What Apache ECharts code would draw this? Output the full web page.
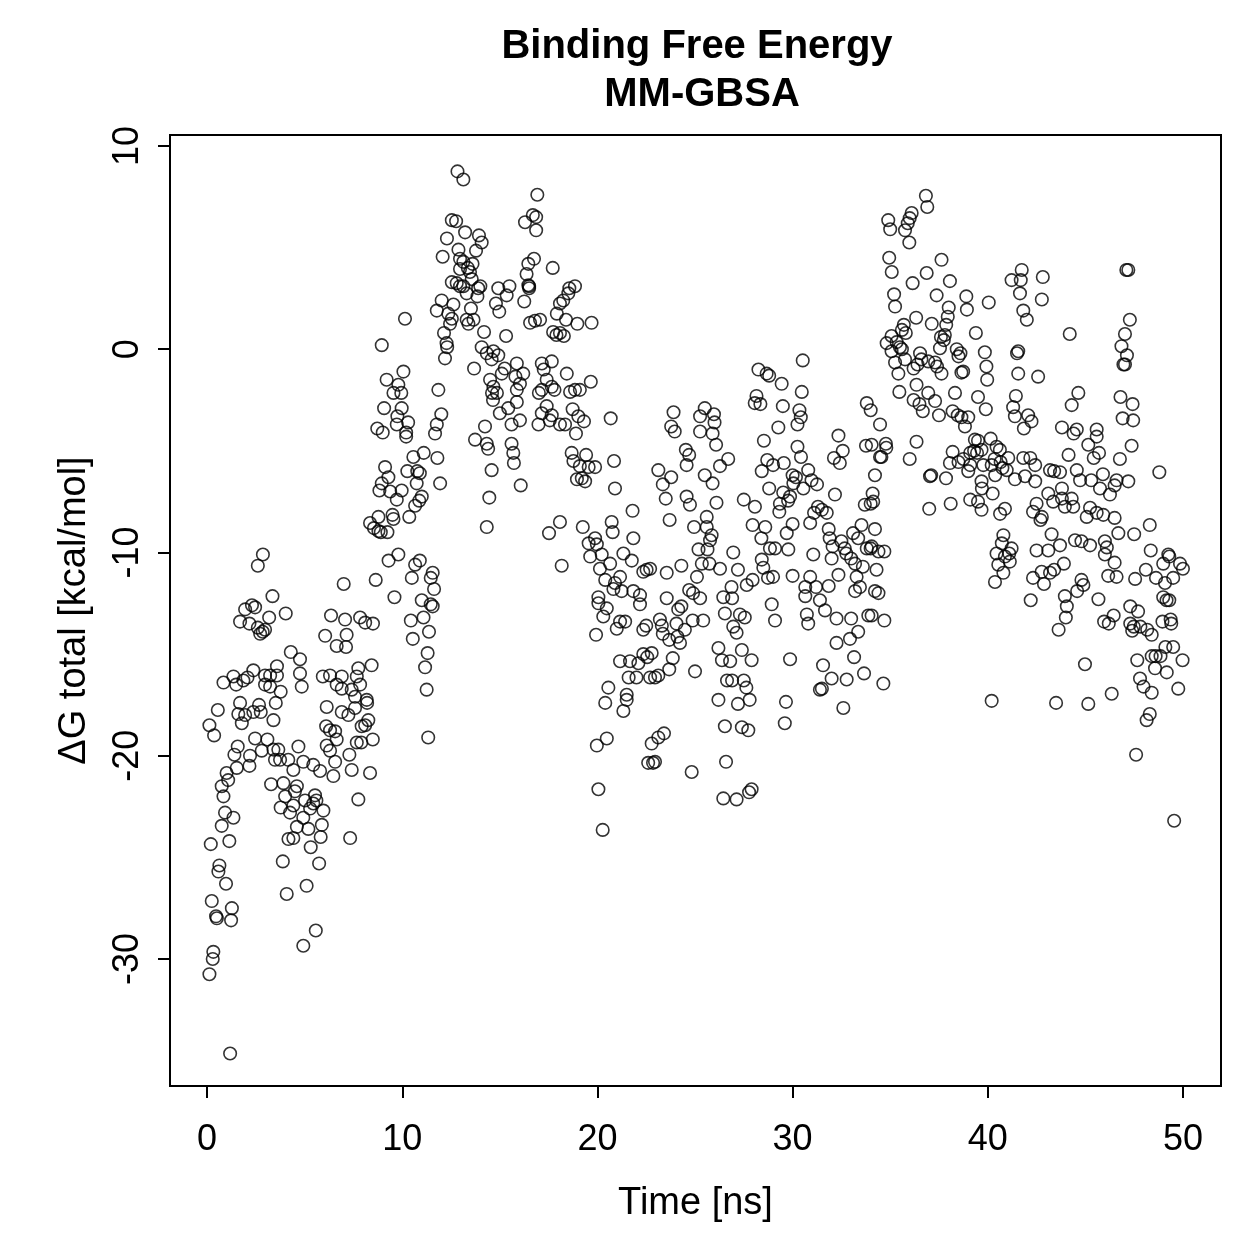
<!DOCTYPE html>
<html>
<head>
<meta charset="utf-8">
<title>Binding Free Energy MM-GBSA</title>
<script src="https://cdn.jsdelivr.net/npm/echarts@6/dist/echarts.min.js"></script>
<style>
  html, body { margin: 0; padding: 0; background: #fff; }
  #chart { width: 1259px; height: 1259px; }
</style>
</head>
<body>
<div id="chart"></div>
<script>
  // tick labels
  var xTicks = [0, 10, 20, 30, 40, 50]
  var yTicks = [-30, -20, -10, 0, 10]

  // [time ns, dG kcal/mol], grouped by time window
  var early = [
    [2.86,-10.1],[2.6,-10.65],[7.0,-11.55],[8.64,-11.35],[9.3,-10.4],[9.8,-10.1],[9.6,-12.2],
    [3.35,-12.15],[2.3,-12.6],[1.95,-12.8],[2.46,-12.7],[4.03,-13.0],[3.18,-13.2],[1.69,-13.4],[2.17,-13.5],[2.6,-13.7],[2.97,-13.8],[2.72,-14.0],[2.85,-13.9],
    [6.35,-13.1],[7.07,-13.3],[7.84,-13.2],[8.1,-13.45],[8.5,-13.5],[6.05,-14.1],[7.15,-14.05],[6.64,-14.6],[7.12,-14.65],
    [4.29,-14.9],[4.76,-15.25],[4.76,-15.95],[4.85,-16.6],
    [2.37,-15.8],[3.58,-15.6],[3.58,-16.05],[0.84,-16.4],[1.35,-16.1],[1.49,-16.5],[1.86,-16.3],[2.07,-16.15],[2.97,-16.05],[3.23,-16.05],[2.97,-16.5],[3.23,-16.6],[3.77,-16.85],[3.52,-17.4],[1.69,-17.4],[0.55,-17.75],[1.6,-17.95],[1.95,-18.0],[2.37,-17.85],[2.66,-17.5],[2.75,-17.85],[3.4,-18.25],[1.78,-18.4],[0.12,-18.5],[0.36,-19.0],[2.46,-19.15],[3.09,-19.2],[1.57,-19.55],[1.4,-19.95],[2.2,-20.0],[2.17,-20.5],[2.8,-19.75],[3.4,-19.7],[3.65,-19.7],[3.48,-20.2],[3.74,-20.2],[4.16,-20.2],[4.68,-19.55],[4.93,-20.3],[4.42,-20.7],[5.44,-20.45],[5.79,-20.75],[1.52,-20.6],[1.0,-20.85],
    [5.93,-16.1],[6.3,-16.05],[6.9,-16.1],[6.64,-16.5],[6.9,-16.7],[7.67,-16.1],[7.75,-15.7],[8.43,-15.55],[7.84,-16.5],[7.41,-16.75],[7.58,-17.1],[8.18,-17.25],[8.2,-17.4],[6.13,-17.6],[6.9,-17.85],[7.24,-18.0],[7.58,-17.65],[8.26,-18.25],[8.1,-18.5],[6.1,-18.55],[6.3,-18.75],[6.56,-18.8],[6.64,-19.2],[7.92,-18.55],[8.49,-19.2],[7.67,-19.35],[7.9,-19.35],[6.13,-19.5],[6.3,-19.75],[6.56,-20.3],[7.29,-19.95],[7.41,-20.7],[8.35,-20.85],[6.47,-21.0],
    [0.75,-21.5],[1.08,-21.2],[0.84,-22.0],[0.92,-22.8],[1.35,-23.05],[0.75,-23.45],[0.19,-24.35],[1.14,-24.2],[0.63,-25.4],[0.58,-25.7],[0.97,-26.3],[0.24,-27.15],[1.27,-27.5],[0.46,-27.9],[0.5,-28.0],[1.23,-28.1],[0.32,-29.65],[0.29,-30.0],[0.12,-30.75],[1.18,-34.65],
    [3.28,-21.4],[3.91,-21.35],[4.6,-21.5],[4.5,-21.75],[4.0,-22.0],[3.77,-22.55],[4.25,-22.8],[4.42,-22.45],[5.02,-22.2],[5.53,-21.95],[5.44,-22.35],[5.6,-22.2],[5.28,-22.6],[5.96,-22.7],[4.93,-23.05],[4.6,-23.5],[5.19,-23.6],[5.88,-23.4],[5.82,-24.0],[4.17,-24.1],[4.42,-24.05],[5.31,-24.5],[3.88,-25.2],[5.74,-25.3],[5.1,-26.4],[4.08,-26.8],[5.57,-28.6],[4.93,-29.35],[7.75,-22.15],[7.33,-24.05]
  ]

  var rise = [
    [12.83,8.75],[13.13,8.35],[16.92,7.6],[12.54,6.35],[12.76,6.3],[16.69,6.6],[16.29,6.25],[16.86,6.5],[16.86,5.85],[13.22,5.75],[13.93,5.6],[14.07,5.25],[12.29,5.45],[12.88,4.9],[13.78,4.85],[12.07,4.55],[12.96,4.45],[13.13,4.3],[13.6,4.2],[13.36,4.0],[12.96,3.95],[13.47,3.8],[16.75,4.45],[16.46,4.2],[17.71,4.0],[16.37,3.7],[16.46,3.15],[16.5,3.1],[16.5,3.0],
    [12.54,3.3],[12.79,3.25],[13.13,3.1],[12.96,3.1],[13.56,3.45],[13.89,3.0],[14.0,3.1],[13.3,2.75],[13.85,2.6],[14.92,3.0],[15.49,3.1],[15.35,2.65],[12.02,2.4],[12.62,2.2],[11.77,1.9],[12.36,1.75],[12.54,1.5],[12.45,1.25],[13.3,1.45],[13.52,2.0],[13.65,1.45],[13.39,1.25],[10.14,1.5],[12.14,0.8],[12.27,0.3],[12.3,0.1],[12.19,-0.45],[8.95,0.2],[14.19,0.85],[14.8,2.25],[14.97,1.85],[15.32,0.65],[16.25,2.35],[14.07,0.1],[14.33,-0.2],[14.67,-0.1],[14.92,-0.3],[14.58,-0.5],[13.68,-0.95],[14.5,-1.5],[15.1,-1.2],[15.25,-0.95],[15.87,-0.7],[16.2,-1.2],[15.8,-1.35],[16.03,-1.7],[15.87,-2.0],[14.67,-1.85],[14.85,-2.15],[14.6,-2.15],[11.85,-2.0],[9.2,-1.5],[10.06,-1.1],[9.8,-1.75],[9.55,-2.15],[9.95,-2.15],
    [16.55,1.3],[17.06,1.45],[16.8,1.4],[17.92,1.75],[18.08,2.25],[18.25,2.4],[18.51,2.75],[18.56,3.0],[18.85,3.1],[18.39,1.45],[18.97,1.25],[19.7,1.3],[17.73,0.85],[18.08,0.8],[18.28,0.65],[17.9,0.7],[17.66,-0.6],[17.15,-0.7],[17.25,-1.0],[17.4,-1.5],[17.66,-1.85],[17.15,-2.0],[17.0,-2.15],[17.8,-2.0],[18.43,-1.2],[18.6,-2.1],[18.85,-2.0],[19.1,-2.0],[19.66,-1.6],
    [9.07,-2.9],[9.97,-2.9],[9.75,-3.3],[10.3,-3.6],[9.72,-3.7],[8.72,-3.9],[9.0,-4.1],[10.2,-4.1],[10.2,-4.3],[12.0,-3.2],[11.77,-3.7],[11.68,-4.15],[10.57,-5.3],[11.1,-5.1],[11.8,-5.35],[9.12,-5.8],[9.29,-6.3],[10.26,-6.0],[10.77,-6.0],[10.9,-6.1],[11.94,-6.6],[8.95,-6.6],[8.83,-6.95],[9.38,-7.0],[9.97,-6.95],[9.72,-7.4],[10.74,-6.6],[11.0,-7.25],[10.87,-7.45],[10.66,-7.7],[10.36,-8.25],[9.5,-8.15],[9.55,-8.35],[8.35,-8.55],[8.78,-8.25],[8.55,-8.8],[8.78,-8.95],[9.24,-9.0],[8.9,-9.0],
    [10.9,-10.4],[10.66,-10.6],[11.56,-11.0],[11.46,-11.25],[11.63,-11.8],[10.49,-11.25],[11.0,-12.35],[11.46,-12.55],[11.56,-12.65],[11.09,-13.2],[10.44,-13.35],[11.37,-13.9],[10.54,-14.25],[11.3,-14.95],[11.17,-15.65],[11.25,-16.75],[11.33,-19.1],
    [14.24,-3.8],[13.73,-4.45],[14.33,-4.65],[14.4,-4.9],[14.58,-5.95],[14.46,-7.3],[14.33,-8.75],[15.6,-4.65],[15.69,-5.1],[15.72,-5.6],[16.07,-6.7],[15.0,-3.15],[15.43,-2.9],[16.03,-3.5],[15.6,-3.7],[14.65,-2.5],[15.87,-2.6],
    [16.98,-3.7],[17.15,-3.15],[17.4,-2.8],[17.66,-3.25],[18.08,-3.7],[18.34,-3.7],[17.56,-3.5],[18.73,-2.95],[19.02,-3.3],[19.31,-3.55],[18.9,-4.15],[18.68,-5.1],[19.42,-5.2],[18.77,-5.5],[19.1,-5.75],[19.55,-5.8],[19.2,-6.35],[19.37,-6.5],[18.95,-6.4],
    [18.08,-8.5],[17.52,-9.05],[18.17,-10.65],[19.25,-8.75],[19.55,-9.55],[19.63,-10.2]
  ]

  var mid = [
    [20.68,-3.4],[20.85,-5.5],[20.9,-6.85],[19.88,-5.8],[21.8,-7.95],[20.73,-8.5],[20.78,-9.0],[21.84,-9.3],[19.88,-9.3],[20.22,-10.1],[19.97,-9.6],[21.33,-10.05],[21.76,-10.4],[20.65,-10.55],[20.13,-10.8],[20.4,-11.35],[20.9,-11.5],[21.16,-11.2],[20.82,-11.8],[21.24,-11.9],[21.84,-11.9],[22.18,-12.1],[22.18,-12.55],[20.05,-12.2],[22.35,-10.95],[22.52,-10.85],[22.7,-10.8],[23.55,-11.0],[24.3,-10.65],[23.55,-12.25],[24.9,-12.0],[25.26,-12.25],[24.7,-11.85],[25.1,-11.2],[25.35,-10.55],[25.74,-10.55],[26.28,-10.8],[25.18,-9.85],[25.64,-9.85],[25.77,-9.4],[25.85,-9.15],[25.6,-8.75],[25.6,-8.25],[24.95,-8.75],[23.7,-8.4],[23.5,-7.35],[24.57,-7.25],[24.74,-7.65],[26.1,-7.55],[26.96,-10.0],[27.2,-10.85],[27.65,-11.6],[26.87,-11.7],[26.45,-12.2],[26.9,-12.25],[23.12,-5.95],[23.35,-6.65],[23.78,-6.3],[24.53,-4.95],[24.7,-5.2],[24.57,-5.7],[25.5,-6.2],[25.9,-6.6],[26.28,-5.75],[26.7,-5.4],[26.08,-4.7],[25.9,-4.15],[25.26,-4.05],[25.26,-3.3],[25.5,-2.9],[25.97,-3.2],[26.0,-3.6],[23.9,-3.1],[23.78,-3.8],[23.96,-4.05],
    [20.05,-12.5],[20.48,-12.75],[20.3,-13.15],[19.93,-14.05],[20.99,-13.75],[21.16,-13.4],[21.42,-13.4],[22.35,-13.8],[22.5,-13.6],[23.2,-13.3],[23.3,-13.6],[23.35,-14.0],[23.68,-14.3],[24.05,-13.5],[24.14,-12.8],[24.3,-12.65],[24.48,-13.8],[24.1,-14.15],[24.23,-14.45],[24.88,-13.35],[25.42,-13.35],[21.16,-15.35],[21.67,-15.35],[22.1,-15.45],[22.35,-15.0],[22.78,-14.95],[22.55,-15.15],[23.86,-15.2],[23.68,-15.75],[23.12,-16.05],[22.95,-16.15],[22.7,-16.15],[22.0,-16.15],[21.6,-16.15],[25.0,-15.85],[20.56,-16.65],[20.4,-17.4],[21.5,-17.0],[21.5,-17.25],[21.33,-17.8],[20.48,-19.15],[19.97,-19.5],[23.41,-18.9],[23.12,-19.1],[22.78,-19.4],[22.6,-20.35],[22.85,-20.35],[22.95,-20.3],[24.83,-20.8],[20.05,-21.65],[20.27,-23.65],
    [26.53,-13.0],[27.3,-13.05],[27.55,-13.2],[26.96,-13.65],[27.13,-13.95],[26.2,-14.7],[26.38,-15.3],[26.8,-15.35],[27.4,-14.8],[27.9,-15.3],[26.64,-16.3],[26.9,-16.3],[27.5,-16.3],[27.63,-16.65],[26.2,-17.25],[27.2,-17.45],[27.8,-17.25],[26.53,-18.55],[27.4,-18.6],[27.73,-18.75],[26.59,-20.3],[26.45,-22.1],[27.13,-22.15],[27.77,-21.8],[27.9,-21.65],
    [30.52,-0.55],[28.25,-1.0],[28.67,-1.2],[28.8,-1.3],[29.44,-1.7],[30.47,-2.1],[28.15,-2.3],[28.06,-2.65],[28.35,-2.7],[29.5,-2.8],[30.35,-3.0],[30.42,-3.35],[30.25,-3.7],[29.27,-3.85],[28.53,-4.5],[30.25,-4.8],[30.43,-5.3],[28.7,-5.45],[29.0,-5.7],[29.55,-5.6],[28.42,-6.0],[30.0,-6.2],[30.17,-6.3],[30.8,-5.95],[30.97,-6.45],[31.25,-6.65],[30.04,-6.6],[28.8,-6.85],[29.52,-7.05],[30.55,-6.85],[29.87,-7.25],[29.77,-7.45],[29.35,-7.6],[29.32,-8.0],[27.5,-7.4],[28.07,-7.75],[32.17,-7.15],[31.3,-7.75],[31.1,-8.05],[31.5,-7.9],[31.75,-8.05],[30.9,-8.55],[27.95,-8.65],[28.6,-8.75],[30.0,-8.6],[29.7,-9.05],[28.4,-9.3],[31.85,-8.85],[31.9,-9.3],[32.05,-9.7],[32.5,-9.45],[32.67,-9.8],[32.75,-10.05],[33.0,-10.3],[33.2,-10.55],[33.1,-9.05],[33.53,-8.65],[34.22,-8.85],[33.36,-9.3],[33.8,-9.8],[34.0,-9.8],[34.4,-9.95],[34.7,-9.95],[28.84,-9.8],[29.1,-9.8],[29.78,-9.85],[31.06,-10.1],[32.0,-10.3],[28.42,-10.35],[28.5,-10.75],[27.95,-11.35],[28.74,-11.25],[29.0,-11.2],[30.0,-11.15],[30.9,-11.2],[31.85,-11.65],[32.35,-11.1],[33.28,-11.2],[33.6,-10.7],[34.3,-10.85],[33.45,-11.7],[33.2,-11.9],[34.22,-11.9],[34.4,-12.0],[31.2,-11.7],[30.65,-11.7],[33.8,-2.65],[34.0,-3.0],[34.48,-3.7],[32.35,-4.25],[33.76,-4.75],[34.78,-4.65],[34.8,-4.85],[34.48,-5.3],[34.55,-5.3],[32.57,-5.0],[32.12,-5.35],[32.42,-5.6],[34.22,-6.2],[34.1,-7.1],[33.7,-7.65],[34.0,-7.6],
    [28.93,-12.55],[29.1,-13.35],[30.65,-12.15],[30.73,-13.05],[30.8,-13.5],[31.4,-12.35],[31.66,-12.85],[32.25,-13.25],[33.0,-13.25],[33.88,-13.1],[34.7,-13.35],[33.36,-13.9],[32.94,-14.25],[32.25,-14.45],[29.87,-15.25],[31.56,-15.55],[32.0,-16.2],[32.77,-16.25],[33.15,-15.15],[33.66,-15.95],[34.65,-16.45],[31.4,-16.75],[31.5,-16.7],[32.6,-17.65],[29.66,-17.35],[29.6,-18.4]
  ]

  var late = [
    [36.83,7.55],[36.9,7.0],[36.1,6.7],[36.0,6.45],[35.9,6.2],[35.76,5.85],[35.98,5.25],[34.9,6.35],[35.0,5.9],[34.95,4.5],[35.08,3.8],[36.15,3.25],[36.87,3.75],[37.63,4.4],[38.06,3.35],[35.2,2.7],[35.25,2.1],[37.38,2.65],[38.0,2.05],[37.95,1.6],[37.87,1.2],[38.9,2.6],[38.93,1.95],[40.05,2.3],[36.33,1.55],[37.13,1.25],[35.7,1.2],[35.6,0.95],[35.8,0.8],[35.07,0.65],[34.82,0.3],[35.33,0.35],[35.5,0.1],[35.6,0.0],[35.07,-0.1],[35.76,-0.5],[35.25,-0.65],[35.42,-1.2],[35.47,-2.1],[36.2,-0.95],[36.53,-0.2],[36.6,-0.5],[36.4,-0.75],[36.95,-0.6],[37.3,-0.65],[37.4,-0.85],[37.63,-1.2],[37.55,0.05],[37.6,0.6],[37.8,0.7],[37.75,0.45],[38.41,0.0],[38.6,-0.2],[38.5,-0.35],[38.74,-1.1],[38.65,-1.15],[39.39,0.8],[39.85,-0.15],[39.93,-0.85],[39.97,-1.5],[36.35,-1.75],[36.95,-2.15],[37.3,-2.55],[36.67,-3.05],[36.2,-2.5],[36.5,-2.7],[38.32,-2.15],[37.5,-3.25],[38.2,-3.05],[38.46,-3.25],[38.65,-3.35],[39.5,-2.35],[39.9,-2.95],
    [34.05,-4.7],[34.13,-7.5],[34.05,-9.7],[34.05,-13.1],[36.35,-4.55],[36.0,-5.4],[37.04,-6.25],[37.1,-6.2],[37.86,-6.35],[37.0,-7.85],[38.1,-7.6],[38.83,-3.8],[39.0,-3.35],[38.2,-5.05],[38.06,-5.6],[38.5,-5.55],[38.75,-5.4],[39.1,-5.1],[39.3,-5.0],[39.45,-5.1],[39.34,-4.45],[39.5,-4.5],[40.15,-4.4],[39.68,-4.95],[40.45,-4.8],[39.1,-5.7],[39.77,-5.7],[40.2,-5.7],[40.35,-5.4],[40.66,-5.55],[40.75,-5.85],[40.97,-5.95],[40.38,-6.2],[39.0,-6.0],[39.1,-7.4],[39.68,-6.5],[39.7,-6.85],[40.25,-7.1],[39.5,-7.5],[39.68,-7.9],[40.63,-8.1],[40.88,-7.85],[40.8,-9.15],[40.72,-9.55],[40.45,-10.05],[40.88,-10.2],[40.54,-10.6],[40.8,-11.0],[40.37,-11.45],[40.2,-17.3],
    [41.74,3.9],[41.22,3.4],[41.69,3.4],[42.82,3.55],[41.65,2.75],[42.77,2.45],[41.82,1.9],[42.0,1.45],[44.2,0.75],[41.56,-0.1],[41.5,-0.2],[41.56,-1.2],[42.58,-1.35],[41.44,-2.3],[41.3,-2.85],[41.39,-3.3],[42.07,-3.25],[42.24,-3.55],[41.85,-3.9],[44.64,-2.15],[44.3,-2.75],[43.8,-3.85],[44.56,-3.95],[44.4,-4.15],[45.58,-3.95],[45.58,-4.3],[45.15,-4.7],[45.7,-5.1],[45.43,-5.35],[44.14,-5.2],[46.77,-5.4],[47.37,-4.75],[47.2,3.9],[47.1,3.9],[47.28,1.45],[47.03,0.75],[46.85,0.15],[47.13,-0.3],[47.03,-0.75],[46.95,-0.75],[46.8,-2.35],[47.42,-2.7],[46.91,-3.4],[47.45,-3.5],[48.79,-6.05],
    [40.62,-4.95],[41.05,-5.35],[41.82,-5.35],[42.18,-5.35],[42.43,-5.7],[41.91,-6.25],[41.39,-6.4],[42.43,-6.5],[43.19,-5.95],[43.4,-6.0],[43.7,-6.05],[44.56,-5.95],[44.73,-6.45],[45.3,-6.45],[45.9,-6.15],[45.75,-6.85],[46.6,-6.45],[46.5,-6.7],[46.26,-7.15],[47.2,-6.5],[43.1,-7.1],[43.8,-6.85],[43.8,-7.35],[44.3,-7.35],[43.35,-7.5],[43.95,-7.75],[44.38,-7.75],[42.5,-7.6],[42.32,-8.0],[42.77,-8.25],[42.7,-8.4],[45.24,-7.8],[45.58,-8.05],[45.07,-8.25],[45.92,-8.15],[46.5,-8.3],[48.3,-8.65],
    [43.27,-9.1],[46.69,-9.05],[47.5,-9.1],[41.22,-9.8],[41.1,-10.05],[41.13,-10.45],[42.5,-9.9],[43.1,-9.9],[43.7,-9.65],[44.47,-9.4],[44.8,-9.45],[45.24,-9.65],[46.0,-9.45],[46.1,-9.75],[46.0,-10.1],[46.5,-10.5],[46.17,-11.15],[46.6,-11.2],[43.9,-10.55],[42.76,-10.95],[43.19,-11.0],[43.4,-10.85],[42.32,-11.25],[42.88,-11.55],[42.2,-12.35],[44.8,-11.35],[44.9,-11.6],[44.58,-11.9],[43.95,-12.15],[44.05,-12.65],[44.0,-13.2],[43.63,-13.8],[45.67,-12.3],[46.45,-13.1],[45.96,-13.4],[46.2,-13.5],[44.98,-15.5],[43.5,-17.4],[45.15,-17.45],[46.35,-16.95],[48.35,-9.9],[48.1,-10.85],[47.55,-11.3],[48.62,-11.25],[48.99,-10.55],[49.25,-10.1],[49.3,-10.2],[49.85,-10.55],[50.0,-10.8],[49.5,-11.25],[49.08,-11.5],[47.3,-12.65],[47.7,-12.9],[48.99,-12.2],[49.16,-12.35],[49.3,-12.35],[47.3,-13.5],[47.48,-13.65],[47.4,-13.85],[47.82,-13.65],[48.17,-13.8],[48.4,-14.05],[48.95,-13.4],[49.37,-13.3],[49.4,-13.5],[49.1,-14.65],[49.5,-14.65],[47.66,-15.3],[48.4,-15.1],[48.6,-15.1],[48.85,-15.1],[48.57,-15.7],[49.17,-15.9],[49.98,-15.3],[47.8,-16.2],[47.98,-16.6],[48.4,-16.9],[49.76,-16.7],[48.14,-18.25],[48.3,-17.95],[47.6,-19.95],[49.55,-23.2]
  ]

  var points = early.concat(rise, mid, late)
  var font = 'Liberation Sans, Arial, Helvetica, sans-serif'

  var myChart = echarts.init(document.getElementById('chart'))
  myChart.setOption({
    animation: false,
    backgroundColor: '#fff',
    graphic: [
      { type: 'text', x: 697, y: 47, silent: true,
        style: { text: 'Binding Free Energy', fontSize: 40, fontWeight: 'bold', fontFamily: font, fill: '#000', align: 'center', verticalAlign: 'middle' } },
      { type: 'text', x: 702, y: 95, silent: true,
        style: { text: 'MM-GBSA', fontSize: 40, fontWeight: 'bold', fontFamily: font, fill: '#000', align: 'center', verticalAlign: 'middle' } }
    ],
    grid: {
      left: 170, top: 135, width: 1051, height: 951,
      show: true, borderColor: '#000', borderWidth: 2, backgroundColor: 'transparent'
    },
    xAxis: {
      type: 'value',
      min: -1.9, max: 51.95,
      name: 'Time [ns]',
      nameLocation: 'middle',
      nameGap: 99,
      nameTextStyle: { fontSize: 38, fontFamily: font, color: '#000' },
      splitLine: { show: false },
      axisLine: { show: false, onZero: false },
      axisTick: { show: true, length: 12, customValues: xTicks, lineStyle: { color: '#000', width: 2 } },
      axisLabel: { customValues: xTicks, margin: 36, fontSize: 36, fontFamily: font, color: '#000' }
    },
    yAxis: {
      type: 'value',
      min: -36.25, max: 10.54,
      name: 'ΔG total [kcal/mol]',
      nameLocation: 'middle',
      nameRotate: 90,
      nameGap: 76,
      nameTextStyle: { fontSize: 38, fontFamily: font, color: '#000' },
      splitLine: { show: false },
      axisLine: { show: false, onZero: false },
      axisTick: { show: true, length: 12, customValues: yTicks, lineStyle: { color: '#000', width: 2 } },
      axisLabel: { customValues: yTicks, rotate: 90, margin: 24, fontSize: 36, fontFamily: font, color: '#000' }
    },
    series: [{
      type: 'scatter',
      data: points,
      symbol: 'circle',
      symbolSize: 12.5,
      silent: true,
      itemStyle: { color: 'rgba(0,0,0,0)', borderColor: '#000', borderWidth: 1.6 }
    }]
  })
</script>
</body>
</html>
